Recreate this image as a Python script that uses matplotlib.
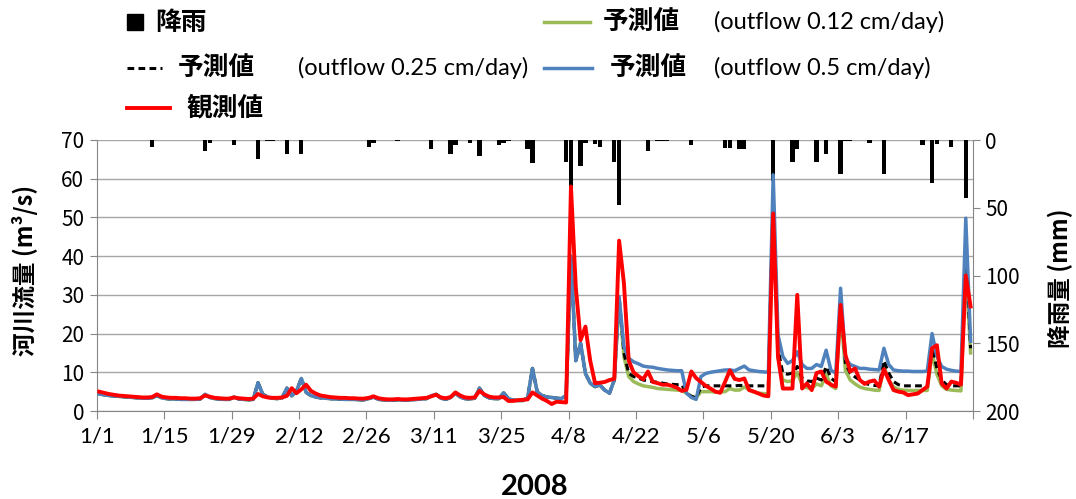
import matplotlib
matplotlib.use('Agg')
import matplotlib.pyplot as plt
import matplotlib.transforms as mtransforms
from matplotlib.lines import Line2D
import pandas as pd

plt.rcParams['font.family'] = ['Noto Sans CJK JP', 'DejaVu Sans']

# daily values, 2008-01-01 .. 2008-06-30
dates = pd.date_range('2008-01-01', '2008-06-30', freq='D')

observed = [
    5.0, 4.7, 4.4, 4.2, 4.0, 3.9, 3.8, 3.7, 3.6, 3.5,
    3.5, 3.6, 4.3, 3.7, 3.5, 3.4, 3.4, 3.3, 3.3, 3.2,
    3.2, 3.3, 4.0, 3.7, 3.4, 3.3, 3.2, 3.2, 3.5, 3.3,
    3.2, 3.1, 3.2, 4.4, 3.8, 3.5, 3.4, 3.4, 3.5, 3.9,
    5.9, 4.6, 5.6, 6.8, 5.2, 4.5, 4.0, 3.8, 3.6, 3.5,
    3.4, 3.4, 3.3, 3.3, 3.2, 3.2, 3.4, 3.8, 3.3, 3.1,
    3.0, 3.0, 3.1, 3.0, 3.0, 3.1, 3.2, 3.3, 3.4, 3.8,
    4.2, 3.5, 3.3, 3.6, 4.8, 4.0, 3.5, 3.4, 3.5, 5.2,
    4.3, 3.7, 3.5, 3.5, 3.6, 2.6, 2.6, 2.8, 2.9, 3.0,
    4.8, 4.0, 3.2, 2.6, 1.8, 2.4, 2.3, 2.2, 58.0, 32.0,
    18.3, 21.8, 13.0, 7.2, 7.3, 7.5, 8.0, 8.3, 44.0, 33.0,
    13.0, 10.0, 9.0, 8.2, 10.2, 7.5, 7.2, 6.8, 6.8, 6.5,
    6.0, 5.2, 5.5, 10.2, 8.5, 7.5, 6.5, 5.8, 5.0, 4.7,
    7.5, 10.5, 8.3, 8.0, 8.4, 5.4, 5.0, 4.5, 4.0, 3.8,
    51.0, 14.0, 5.8, 5.8, 5.8, 30.0, 5.8, 7.1, 5.4, 9.8,
    10.2, 7.6, 6.8, 6.3, 27.4, 14.5, 10.2, 11.0, 8.0, 7.0,
    7.6, 7.9, 6.3, 10.8, 8.0, 5.4, 5.0, 4.8, 4.1, 4.3,
    4.5, 5.4, 6.3, 16.2, 17.0, 7.1, 5.8, 7.6, 7.3, 6.8,
    35.0, 27.0,
]

# Jan 1 .. Apr 17: the three predictions lie on top of each other
pred_common = [
    4.4, 4.2, 4.0, 3.9, 3.8, 3.7, 3.6, 3.5, 3.4, 3.3,
    3.3, 3.4, 4.0, 3.4, 3.2, 3.1, 3.1, 3.0, 3.0, 3.0,
    3.0, 3.1, 4.3, 3.5, 3.2, 3.1, 3.0, 3.0, 3.6, 3.1,
    3.0, 2.9, 3.0, 7.3, 4.3, 3.6, 3.3, 3.2, 3.4, 5.9,
    3.9, 5.2, 8.4, 4.8, 4.0, 3.6, 3.4, 3.3, 3.2, 3.1,
    3.1, 3.0, 3.0, 3.0, 2.9, 2.9, 3.2, 3.6, 3.0, 2.9,
    2.8, 2.8, 2.9, 2.8, 2.8, 2.9, 3.0, 3.1, 3.2, 3.9,
    4.3, 3.3, 3.0, 3.5, 4.6, 3.6, 3.2, 3.1, 3.3, 5.9,
    4.0, 3.4, 3.2, 3.2, 4.7, 3.2, 2.8, 2.7, 2.7, 3.4,
    11.0, 4.9, 4.0, 3.6, 3.5, 3.3, 3.2, 4.0, 40.0, 13.0,
    17.5, 9.7, 7.2, 6.3, 6.7, 5.4, 4.6, 8.0,
]

# Apr 18 .. Jun 30
pred_050_tail = [
    29.5, 16.6,
    13.6, 12.7, 12.2, 11.6, 11.4, 11.3, 11.0, 10.8, 10.6, 10.5,
    10.4, 10.4, 4.6, 3.5, 3.0, 8.9, 9.7, 10.0, 10.2, 10.4,
    10.6, 10.6, 10.4, 11.0, 11.6, 10.6, 10.4, 10.2, 10.1, 10.0,
    61.0, 19.7, 14.1, 12.3, 13.0, 15.3, 12.0, 11.0, 11.0, 12.0,
    11.5, 15.7, 10.5, 9.8, 31.7, 13.6, 12.0, 11.5, 11.0, 11.0,
    10.8, 10.7, 10.6, 16.2, 12.0, 10.6, 10.4, 10.3, 10.3, 10.2,
    10.2, 10.2, 10.3, 20.0, 14.1, 11.5, 10.8, 10.5, 10.3, 10.2,
    49.8, 18.0,
]
pred_025_tail = [
    29.5, 15.0,
    9.7, 8.9, 8.5, 8.0, 7.8, 7.6, 7.4, 7.2, 7.0, 6.9,
    6.8, 6.8, 4.6, 3.8, 3.4, 6.2, 6.5, 6.5, 6.5, 6.5,
    6.5, 6.5, 6.5, 6.6, 6.6, 6.5, 6.5, 6.5, 6.5, 6.5,
    56.0, 16.0, 9.8, 9.5, 9.8, 11.5, 8.5, 7.8, 7.6, 8.5,
    8.0, 11.5, 8.5, 7.5, 28.5, 12.3, 9.8, 8.8, 8.0, 7.2,
    6.8, 6.6, 6.5, 13.0, 9.8, 7.6, 6.8, 6.5, 6.5, 6.5,
    6.5, 6.5, 6.5, 16.5, 11.0, 8.0, 6.8, 6.5, 6.5, 6.5,
    42.0, 16.2,
]
pred_012_tail = [
    29.0, 14.0,
    8.9, 7.6, 7.0, 6.5, 6.3, 6.1, 5.8, 5.7, 5.6, 5.5,
    5.4, 5.3, 4.6, 3.8, 3.4, 5.0, 5.0, 5.0, 4.9, 4.9,
    5.0, 5.8, 5.4, 5.4, 6.2, 5.5, 4.9, 4.6, 4.5, 4.4,
    53.0, 14.0, 8.0, 7.6, 7.8, 10.0, 6.8, 6.0, 5.8, 7.0,
    6.5, 9.5, 6.5, 5.8, 26.0, 10.5, 8.0, 7.0, 6.2, 5.8,
    5.6, 5.4, 5.3, 11.5, 8.0, 6.2, 5.6, 5.4, 5.3, 5.3,
    5.3, 5.3, 5.3, 15.0, 9.5, 6.5, 5.6, 5.4, 5.3, 5.2,
    38.0, 15.0,
]

pred_050 = pred_common + pred_050_tail
pred_025 = pred_common + pred_025_tail
pred_012 = pred_common + pred_012_tail

# rainfall (mm), only the rainy days (day number from Jan 1)
rain_day = [11, 22, 23, 28, 33, 35, 36, 39, 42, 56, 57, 62, 69, 73, 74, 77, 79,
            83, 84, 85, 89, 90, 97, 98, 100, 101, 103, 104, 107, 108, 114, 116,
            117, 118, 123, 130, 131, 133, 134, 140, 144, 145, 149, 151, 154, 155,
            156, 160, 163, 171, 173, 174, 177, 180]
rain_mm = [5, 8, 2, 4, 14, 1, 1, 10, 10, 5, 2, 1, 7, 10, 4, 2, 12,
           3.5, 2, 1, 7, 17, 16, 40, 19, 2, 3, 5, 16, 48, 8, 1,
           1, 1, 4, 6, 6, 7, 7, 30, 16, 7, 16, 10, 25, 1,
           1, 2, 25, 4, 32, 3, 5, 43]

tick_dates = pd.date_range('2008-01-01', '2008-07-01', freq='14D')
tick_labels = ['1/1', '1/15', '1/29', '2/12', '2/26', '3/11', '3/25', '4/8',
               '4/22', '5/6', '5/20', '6/3', '6/17', '']

grey = '#868686'
c_red = '#FF0000'
c_blue = '#4F81BD'
c_green = '#9BBB59'

W, H = 1076, 499
fig = plt.figure(figsize=(W / 100, H / 100), dpi=100)
ax = fig.add_axes([96.7 / W, 1 - 411 / H, 876.3 / W, 271 / H])
ax_rain = ax.twinx()

x = dates + pd.Timedelta(hours=12)
rain_x = dates[rain_day] + pd.Timedelta(hours=12)

# rain bars hang from the top, drawn in the flow axes but with the rain y scale
blend = mtransforms.blended_transform_factory(ax.transData, ax_rain.transData)
ax.bar(rain_x, rain_mm, width=0.9, color='black', transform=blend, zorder=1)

ax.plot(x, pred_012, color=c_green, lw=2.5, zorder=3)
ax.plot(x, pred_025, color='black', lw=2.2, ls=(0, (2.2, 1.4)), zorder=4)
ax.plot(x, pred_050, color=c_blue, lw=2.5, zorder=5)
ax.plot(x, observed, color=c_red, lw=2.8, zorder=6)

ax.set_xlim(pd.Timestamp('2008-01-01'), pd.Timestamp('2008-07-01'))
ax.set_ylim(0, 70)
ax.set_yticks(range(0, 71, 10))
ax.set_xticks(tick_dates)
ax.set_xticklabels(tick_labels, family=['Lato', 'DejaVu Sans'])
ax.set_axisbelow(True)
ax.grid(axis='y', color='#A6A6A6', lw=1)
ax.tick_params(axis='y', length=5, color=grey, labelsize=15, pad=4)
ax.tick_params(axis='x', length=6, color=grey, labelsize=16, pad=5)
for s in ['top', 'right']:
    ax.spines[s].set_visible(False)
for s in ['left', 'bottom']:
    ax.spines[s].set_color(grey)

ax_rain.set_ylim(200, 0)
ax_rain.set_yticks(range(0, 201, 50))
ax_rain.tick_params(axis='y', length=5, color=grey, labelsize=15, pad=4)
for s in ['top', 'left', 'bottom']:
    ax_rain.spines[s].set_visible(False)
ax_rain.spines['right'].set_color(grey)

fig.text(25 / W, 1 - 270 / H, '河川流量 (m³/s)', rotation=90, ha='center', va='center',
         fontsize=17, fontweight='bold')
fig.text(1060 / W, 1 - 278 / H, '降雨量 (mm)', rotation=90, ha='center', va='center',
         fontsize=17, fontweight='bold')
fig.text(535 / W, 1 - 487 / H, '2008', ha='center', va='center', fontsize=21,
         fontweight='bold', family=['Lato', 'DejaVu Sans'])

# hand-placed legend (pixel positions of the reference)
def fx(px):
    return px / W

def fy(py):
    return 1 - py / H

def leg_line(x0, x1, y, **kw):
    fig.add_artist(Line2D([fx(x0), fx(x1)], [fy(y), fy(y)], transform=fig.transFigure, **kw))

def leg_text(x0, y, s, bold=True, latin=False):
    fam = ['Lato', 'DejaVu Sans'] if latin else ['Noto Sans CJK JP', 'DejaVu Sans']
    fig.text(fx(x0), fy(y), s, ha='left', va='center', fontsize=17 if latin else 18.5,
             fontweight='bold' if bold else 'normal', family=fam)

fig.add_artist(Line2D([fx(135)], [fy(22)], marker='s', markersize=12, color='black',
                      ls='none', transform=fig.transFigure))
leg_text(155, 22, '降雨')
leg_line(544, 590, 22, color=c_green, lw=2.5)
leg_text(603, 22, '予測値')
leg_text(714, 22, '(outflow 0.12 cm/day)', bold=False, latin=True)

leg_line(127, 162, 68, color='black', lw=2.2, ls=(0, (2.2, 1.4)))
leg_text(178, 68, '予測値')
leg_text(298, 68, '(outflow 0.25 cm/day)', bold=False, latin=True)
leg_line(544, 592, 68, color=c_blue, lw=2.5)
leg_text(610, 68, '予測値')
leg_text(714, 68, '(outflow 0.5 cm/day)', bold=False, latin=True)

leg_line(127, 170, 108, color=c_red, lw=2.8)
leg_text(186, 108, '観測値')

fig.savefig('out.png', dpi=100)
